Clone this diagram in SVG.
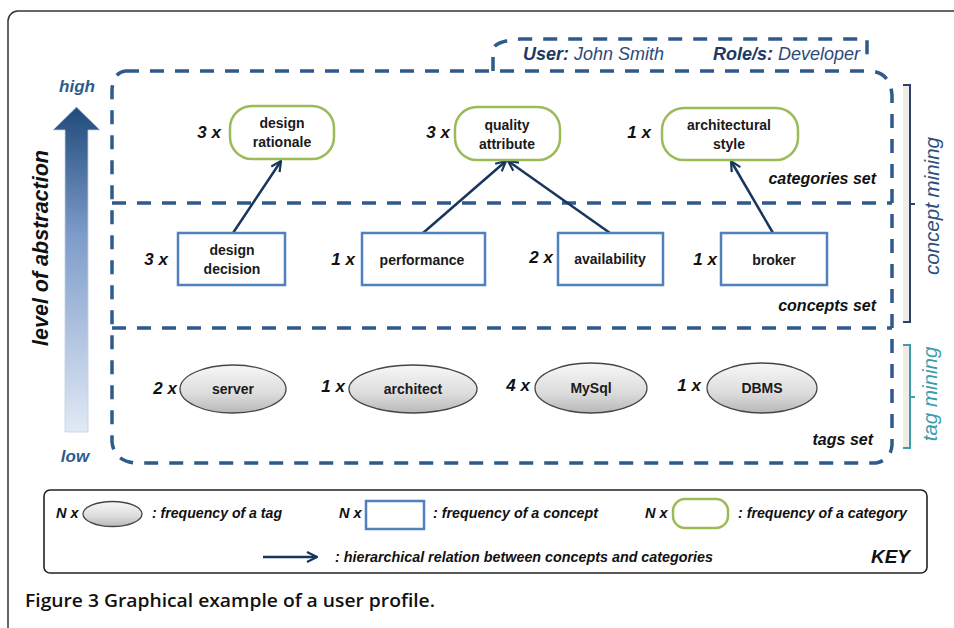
<svg xmlns="http://www.w3.org/2000/svg" width="954" height="628" viewBox="0 0 954 628">
<defs>
<linearGradient id="absGrad" x1="0" y1="0" x2="0" y2="1">
<stop offset="0" stop-color="#1f4a7a"/>
<stop offset="0.4" stop-color="#7f9dca"/>
<stop offset="1" stop-color="#e1e9f6"/>
</linearGradient>
<linearGradient id="tagGrad" x1="0" y1="0" x2="0" y2="1">
<stop offset="0" stop-color="#f7f7f7"/>
<stop offset="0.6" stop-color="#dcdcdc"/>
<stop offset="1" stop-color="#b8b8b8"/>
</linearGradient>
<marker id="arr" viewBox="0 0 12 12" refX="11" refY="6" markerWidth="12" markerHeight="12" markerUnits="userSpaceOnUse" orient="auto">
<path d="M1,1 L11,6 L1,11" fill="none" stroke="#17365d" stroke-width="2.2" stroke-linejoin="miter"/>
</marker>
<style>
.sans{font-family:"Liberation Sans",Arial,sans-serif;}
.dash{fill:none;stroke:#2e5a8c;stroke-width:3.5;stroke-dasharray:14 11;}
.cat{fill:#fff;stroke:#9bbb59;stroke-width:2.5;}
.con{fill:#fff;stroke:#4f81bd;stroke-width:2.5;}
.tag{fill:url(#tagGrad);stroke:#454545;stroke-width:1.3;}
.lbl{font-family:"Liberation Sans",Arial,sans-serif;font-size:14px;font-weight:bold;fill:#1a1a1a;text-anchor:middle;}
.freq{font-family:"Liberation Sans",Arial,sans-serif;font-size:17px;font-weight:bold;font-style:italic;fill:#111;text-anchor:end;}
.set{font-family:"Liberation Sans",Arial,sans-serif;font-size:16px;font-weight:bold;font-style:italic;fill:#111;text-anchor:end;}
.rel{fill:none;stroke:#17365d;stroke-width:2.5;marker-end:url(#arr);}
.key{font-family:"Liberation Sans",Arial,sans-serif;font-size:14.5px;font-weight:bold;font-style:italic;fill:#111;}
.cap{font-family:"Open Sans","Noto Sans",sans-serif;font-size:18px;font-weight:600;fill:#111;}
</style>
</defs>
<rect x="8" y="11" width="1000" height="700" rx="10" fill="#fff" stroke="#333" stroke-width="1.5"/>

<g id="containers">
<path class="dash" d="M125,71 L870,71 Q890,72 892,95 L892,445 Q891,460 876,463 L135,463 Q114,461 112,442 L112,90 Q113,73 125,71"/>
<path class="dash" d="M112,203 L892,203"/>
<path class="dash" d="M112,328 L892,328"/>
<path class="dash" d="M493,71 L493,50 Q494,41 520,39 L867,39 L867,62"/>
</g>

<g id="header" class="sans">
<text x="523" y="60" font-size="18" font-style="italic" fill="#2e4a7a"><tspan font-weight="bold" fill="#1f3864">User:</tspan> John Smith</text>
<text x="860" y="60" font-size="18" font-style="italic" fill="#2e4a7a" text-anchor="end"><tspan font-weight="bold" fill="#1f3864">Role/s:</tspan> Developer</text>
</g>

<g id="abstraction-axis" class="sans">
<polygon points="76.5,107 53,130 65,130 65,432 88,432 88,130 100,130" fill="url(#absGrad)" stroke="#c2d0e6" stroke-width="0.8"/>
<text x="77" y="92" font-size="17" font-weight="bold" font-style="italic" fill="#2e5a8c" text-anchor="middle">high</text>
<text x="75" y="462" font-size="17" font-weight="bold" font-style="italic" fill="#2e5a8c" text-anchor="middle">low</text>
<text transform="translate(48,248) rotate(-90)" font-size="21.5" font-weight="bold" font-style="italic" fill="#111" text-anchor="middle">level of abstraction</text>
</g>

<g id="brackets" class="sans">
<rect x="903" y="85" width="7" height="237" fill="#efede4"/>
<path d="M903,85 L910,85 L910,322 L903,322 M910,204 L915,204" fill="none" stroke="#2b3f6b" stroke-width="2"/>
<text transform="translate(939,206) rotate(-90)" font-size="20.5" font-style="italic" fill="#2d4f7c" text-anchor="middle">concept mining</text>
<rect x="903" y="345" width="7" height="103" fill="#efede4"/>
<path d="M903,345 L910,345 L910,448 L903,448 M910,397 L915,397" fill="none" stroke="#3c9db0" stroke-width="2"/>
<text transform="translate(937,394) rotate(-90)" font-size="20.5" font-style="italic" fill="#3c9db0" text-anchor="middle">tag mining</text>
</g>

<g id="set-labels">
<text class="set" x="876" y="184">categories set</text>
<text class="set" x="876" y="311">concepts set</text>
<text class="set" x="873" y="445">tags set</text>
</g>

<g id="connectors">
<path class="rel" d="M233,233 L281,161"/>
<path class="rel" d="M423,233 L506,161"/>
<path class="rel" d="M610,233 L508,161"/>
<path class="rel" d="M773,233 L731,161"/>
</g>

<g id="cat-design-rationale">
<rect class="cat" x="230" y="106" width="104" height="53" rx="22"/>
<text class="lbl" x="282" y="128">design</text>
<text class="lbl" x="282" y="147">rationale</text>
<text class="freq" x="221" y="138">3 x</text>
</g>
<g id="cat-quality-attribute">
<rect class="cat" x="455" y="107" width="105" height="53" rx="22"/>
<text class="lbl" x="507" y="130">quality</text>
<text class="lbl" x="507" y="149">attribute</text>
<text class="freq" x="450" y="138">3 x</text>
</g>
<g id="cat-architectural-style">
<rect class="cat" x="662" y="108" width="136" height="52" rx="22"/>
<text class="lbl" x="729" y="130">architectural</text>
<text class="lbl" x="729" y="149">style</text>
<text class="freq" x="651" y="138">1 x</text>
</g>

<g id="con-design-decision">
<rect class="con" x="178" y="233" width="107" height="52"/>
<text class="lbl" x="232" y="255">design</text>
<text class="lbl" x="232" y="274">decision</text>
<text class="freq" x="168" y="265">3 x</text>
</g>
<g id="con-performance">
<rect class="con" x="362" y="233" width="123" height="52"/>
<text class="lbl" x="422" y="265">performance</text>
<text class="freq" x="355" y="265">1 x</text>
</g>
<g id="con-availability">
<rect class="con" x="558" y="233" width="105" height="52"/>
<text class="lbl" x="610" y="264">availability</text>
<text class="freq" x="553" y="263">2 x</text>
</g>
<g id="con-broker">
<rect class="con" x="721" y="233" width="106" height="52"/>
<text class="lbl" x="774" y="265">broker</text>
<text class="freq" x="717" y="265">1 x</text>
</g>

<g id="tag-server">
<ellipse class="tag" cx="233" cy="389" rx="53" ry="24"/>
<text class="lbl" x="233" y="394">server</text>
<text class="freq" x="177" y="394">2 x</text>
</g>
<g id="tag-architect">
<ellipse class="tag" cx="413" cy="389" rx="64" ry="24"/>
<text class="lbl" x="413" y="394">architect</text>
<text class="freq" x="345" y="392">1 x</text>
</g>
<g id="tag-mysql">
<ellipse class="tag" cx="591" cy="388" rx="56" ry="25"/>
<text class="lbl" x="591" y="393">MySql</text>
<text class="freq" x="530" y="391">4 x</text>
</g>
<g id="tag-dbms">
<ellipse class="tag" cx="762" cy="388" rx="55" ry="25"/>
<text class="lbl" x="762" y="393">DBMS</text>
<text class="freq" x="701" y="391">1 x</text>
</g>

<g id="key">
<rect x="44" y="490" width="883" height="83" rx="6" fill="#fff" stroke="#222" stroke-width="1.6"/>
<text class="key" x="56" y="518">N x</text>
<ellipse class="tag" cx="112.5" cy="514" rx="29.5" ry="12.5"/>
<text class="key" x="152" y="518" textLength="130" lengthAdjust="spacingAndGlyphs">: frequency of a tag</text>
<text class="key" x="339" y="518">N x</text>
<rect class="con" x="366" y="501" width="58" height="28"/>
<text class="key" x="433" y="518" textLength="165" lengthAdjust="spacingAndGlyphs">: frequency of a concept</text>
<text class="key" x="645" y="518">N x</text>
<rect class="cat" x="673" y="499" width="55" height="29" rx="12"/>
<text class="key" x="738" y="518" textLength="169" lengthAdjust="spacingAndGlyphs">: frequency of a category</text>
<path class="rel" d="M263,557 L317,557"/>
<text class="key" x="335" y="562" textLength="378" lengthAdjust="spacingAndGlyphs">: hierarchical relation between concepts and categories</text>
<text class="sans" x="910" y="563" font-size="19" font-weight="bold" font-style="italic" fill="#111" text-anchor="end">KEY</text>
</g>

<text class="cap" x="25" y="607" textLength="410" lengthAdjust="spacingAndGlyphs">Figure 3 Graphical example of a user profile.</text>
</svg>
